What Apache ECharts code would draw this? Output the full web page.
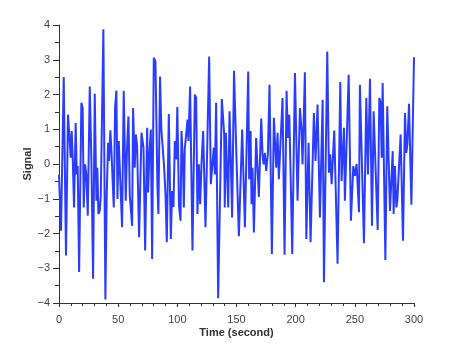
<!DOCTYPE html>
<html>
<head>
<meta charset="utf-8">
<script src="https://cdn.jsdelivr.net/npm/echarts@6/dist/echarts.min.js"></script>
<style>
  html, body { margin: 0; padding: 0; background: #fff; }
  #chart { width: 457px; height: 343px; }
</style>
</head>
<body>
<div id="chart"></div>
<script>
// time (s) of each turning point of the trace
const times = [
  0, 1.7, 4.0, 5.9, 7.6, 9.0, 9.9, 10.7, 11.6, 12.7, 14.1, 15.0, 15.8, 17.0, 18.9, 20.0,
  20.9, 22.0, 23.1, 24.3, 26.0, 27.4, 28.8, 30.2, 31.6, 32.4, 33.3, 34.4, 35.3, 37.5, 39.2,
  40.3, 41.5, 42.3, 43.4, 44.3, 45.1, 46.3, 47.4, 48.5, 49.4, 50.5, 51.6, 53.3, 54.7, 56.4,
  57.5, 58.7, 59.8, 61.8, 62.6, 64.0, 64.9, 66.0, 67.7, 69.7, 71.4, 72.8, 74.5, 75.3, 76.4,
  77.6, 78.7, 80.1, 81.5, 83.2, 84.0, 85.4, 86.5, 87.7, 88.8, 90.0, 91.1, 92.8, 94.5, 95.6,
  96.7, 97.9, 99.0, 100.0, 101.4, 102.7, 103.5, 104.6, 105.5, 106.3, 107.4, 108.6, 109.4,
  110.8, 112.8, 114.8, 115.9, 117.0, 118.2, 119.3, 120.4, 121.8, 123.8, 126.9, 128.3, 129.7,
  130.8, 131.7, 132.8, 134.5, 137.6, 139.6, 140.1, 141.0, 142.1, 143.0, 144.1, 145.2, 146.3,
  147.9, 150.0, 152.0, 154.8, 157.1, 159.9, 160.7, 161.9, 162.7, 163.5, 164.7, 166.6, 168.9,
  170.9, 172.0, 172.9, 174.0, 175.1, 176.5, 177.9, 179.9, 181.6, 183.6, 184.7, 185.8, 187.2,
  188.9, 190.6, 192.3, 193.4, 194.6, 196.0, 197.1, 199.4, 201.6, 203.6, 205.0, 205.8, 206.7,
  207.8, 209.0, 210.9, 212.6, 215.4, 216.8, 218.5, 220.5, 222.8, 223.9, 226.7, 228.1, 229.2,
  230.4, 232.6, 235.4, 237.7, 238.8, 240.8, 241.6, 244.8, 246.7, 248.7, 250.1, 251.5, 252.4,
  253.5, 254.3, 257.7, 259.7, 261.1, 262.8, 264.5, 265.9, 267.0, 269.3, 270.7, 271.8, 272.7,
  273.5, 275.8, 277.4, 279.7, 282.0, 282.8, 283.9, 285.1, 285.9, 288.7, 290.7, 292.4, 293.5,
  294.4, 295.8, 297.8, 300
];

const signal = [
  -0.30, -1.92, 2.50, -2.63, 1.42, 1.47, 0.18, 0.95, 0.18, -1.25, 1.18, -0.30, -0.06, -3.11, 1.76, 1.61,
  -1.25, -0.01, -0.30, -1.49, 2.23, 0.04, -3.30, 2.02, -1.06, -0.11, -1.44, -1.35, -0.92, 3.88, -3.90,
  -0.92, 0.61, 0.09, 0.97, 0.37, 0.37, -1.25, 1.63, 2.11, -1.01, 0.66, 0.71, -1.82, 2.11, -1.06,
  0.47, 1.37, -0.90, -1.78, 1.61, -0.11, 0.85, 0.52, -2.11, 0.90, 0.47, -2.49, 1.04, -0.82, 0.28,
  0.99, -2.73, 3.06, 2.95, -0.68, -1.44, 2.52, 0.99, 1.04, -0.06, -0.87, -2.25, 1.44, -2.16, -0.78,
  -1.24, 0.66, 0.13, 1.64, -1.20, -1.63, 0.95, 0.18, -1.25, 0.42, 0.42, 1.28, 0.66,
  2.23, -2.49, 2.00, 1.90, -1.44, -0.01, -1.16, -0.01, 0.95, -1.82, 3.09, -0.58, -0.58,
  0.47, -0.30, 1.76, -3.86, 1.87, 0.85, -1.25, 0.90, -0.30, -1.25, 1.52, 0.09, -1.54,
  2.68, 0.15, -2.08, 0.99, -1.82, 2.66, -0.44, 0.95, -1.16, -0.11, -1.97, 0.75, -0.95,
  1.31, 0.28, -0.01, 0.32, -0.20, 0.28, 2.28, -2.59, 1.33, -0.11, 0.90, -0.44, -0.39,
  1.90, -2.61, 2.11, 0.75, 1.42, -0.73, -2.59, 2.62, -1.06, 1.61, 0.95, -0.01, -0.01,
  2.64, -2.16, 0.61, -2.25, 1.47, 0.09, 1.71, -1.54, 1.85, -3.40, 3.24, -0.25, 0.28,
  -0.58, 0.96, -2.87, 2.36, -0.49, 1.04, -1.06, 2.57, -1.63, -0.06, -0.34, 0.00, 0.04,
  -1.39, 2.28, -2.28, 1.90, -0.30, 2.45, -1.78, 1.52, 1.57, -1.90, 1.90, 1.76, 0.18,
  2.33, -2.76, 1.66, -1.35, 0.37, -1.44, -0.06, -1.25, -1.06, 0.85, -2.21, 1.47, 0.32,
  0.56, 1.73, -1.17, 3.07
];

const xTicks = [0, 50, 100, 150, 200, 250, 300];
const yTicks = [-4, -3, -2, -1, 0, 1, 2, 3, 4];

const chart = echarts.init(document.getElementById('chart'));

const minus = v => String(v).replace('-', '\u2212');
const labelStyle = {
  fontFamily: 'Liberation Sans, Arial, sans-serif',
  fontSize: 11,
  color: '#444'
};
const nameStyle = {
  fontFamily: 'Liberation Sans, Arial, sans-serif',
  fontSize: 11,
  fontWeight: 'bold',
  color: '#333'
};

const option = {
  animation: false,
  grid: {
    left: 59,
    right: 43,
    top: 25,
    bottom: 38
  },
  xAxis: {
    type: 'value',
    min: xTicks[0],
    max: xTicks[xTicks.length - 1],
    interval: 50,
    name: 'Time (second)',
    nameLocation: 'middle',
    nameGap: 24,
    nameMoveOverlap: false,
    nameTextStyle: nameStyle,
    axisLine: { show: true, onZero: false, lineStyle: { color: '#333', width: 1 } },
    axisTick: { show: true, inside: false, length: 4, lineStyle: { color: '#333' } },
    minorTick: { show: true, splitNumber: 5, length: 3, lineStyle: { color: '#333' } },
    axisLabel: { ...labelStyle, margin: 11, formatter: minus },
    splitLine: { show: false }
  },
  yAxis: {
    type: 'value',
    min: yTicks[0],
    max: yTicks[yTicks.length - 1],
    interval: 1,
    name: 'Signal',
    nameLocation: 'middle',
    nameGap: 26,
    nameMoveOverlap: false,
    nameTextStyle: nameStyle,
    axisLine: { show: true, lineStyle: { color: '#333', width: 1 } },
    axisTick: { show: true, inside: false, length: 6, lineStyle: { color: '#333' } },
    minorTick: { show: true, splitNumber: 2, length: 4, lineStyle: { color: '#333' } },
    axisLabel: { ...labelStyle, margin: 9, formatter: minus },
    splitLine: { show: false }
  },
  series: [{
    type: 'line',
    data: times.map((t, i) => [t, signal[i]]),
    showSymbol: false,
    symbol: 'none',
    lineStyle: { color: '#2a3cff', width: 2 },
    emphasis: { disabled: true }
  }]
};

chart.setOption(option);
</script>
</body>
</html>
